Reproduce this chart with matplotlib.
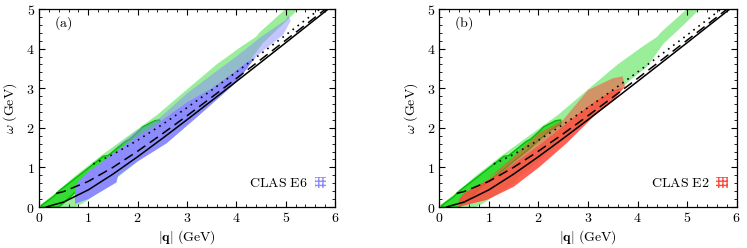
import matplotlib
matplotlib.use("Agg")
import matplotlib.pyplot as plt
from matplotlib.patches import Polygon, Patch
from matplotlib.ticker import MultipleLocator, FixedLocator, FixedFormatter

plt.rcParams['mathtext.fontset'] = 'cm'
plt.rcParams['font.family'] = ['DejaVu Serif']

# ---------------- data ----------------
# kinematic lines (|q|, omega) in GeV
solid_q = [0.15, 0.2, 0.5, 1.0, 1.5, 2.0, 2.5, 3.0, 3.5, 4.0, 4.5, 5.0, 5.5, 5.85]
solid_w = [0.0, 0.021, 0.125, 0.433, 0.831, 1.270, 1.731, 2.204, 2.685, 3.170, 3.658, 4.148, 4.641, 4.986]
dashed_q = [0.35, 0.5, 1.0, 1.5, 2.0, 2.5, 3.0, 3.5, 4.0, 4.5, 5.0, 5.5, 5.8]
dashed_w = [0.342, 0.391, 0.648, 1.002, 1.410, 1.848, 2.304, 2.772, 3.246, 3.727, 4.211, 4.697, 4.990]
dotted_q = [1.1, 1.5, 2.0, 2.5, 3.0, 3.5, 4.0, 4.5, 5.0, 5.5, 5.7]
dotted_w = [1.086, 1.328, 1.686, 2.084, 2.509, 2.952, 3.407, 3.871, 4.342, 4.818, 5.009]

# light green region (boundary, |q| and omega)
green_q = [0.0, 0.3, 0.7, 1.24, 2.4, 3.03, 3.6, 4.1, 4.4, 4.48, 5.0, 5.26, 4.95, 4.53, 4.19, 3.86,
           3.5, 3.0, 2.5, 2.0, 1.6, 1.55, 1.2, 0.9, 0.75, 0.0]
green_w = [0.03, 0.32, 0.75, 1.28, 2.33, 3.0, 3.6, 4.05, 4.3, 4.42, 5.0, 5.0, 4.62, 4.13, 3.54, 3.21,
           2.8, 2.25, 1.7, 1.15, 0.75, 0.62, 0.35, 0.1, 0.0, 0.0]
# darker green region
dgreen_q = [0.05, 0.3, 0.4, 1.1, 1.3, 1.4, 1.75, 1.85, 2.05, 2.1, 2.35, 2.45, 2.45,
            2.2, 1.8, 1.4, 1.1, 0.8, 0.6, 0.5, 0.4, 0.05]
dgreen_w = [0.04, 0.27, 0.4, 1.08, 1.28, 1.3, 1.65, 1.72, 1.95, 2.02, 2.18, 2.2, 2.1,
            1.9, 1.45, 1.05, 0.75, 0.45, 0.22, 0.1, 0.0, 0.0]

# CLAS E6 (panel a): dense part and striped part
e6_dense_q = [0.73, 1.0, 1.3, 1.57, 1.6, 2.0, 2.59, 3.26, 3.94, 4.1, 4.4,
              4.2, 4.0, 3.5, 3.0, 2.5, 2.2, 2.0, 1.5, 1.24, 1.0, 0.8, 0.73]
e6_dense_w = [0.08, 0.2, 0.42, 0.62, 0.78, 1.15, 1.61, 2.33, 3.08, 3.3, 3.8,
              3.65, 3.45, 3.0, 2.65, 2.2, 1.95, 1.8, 1.35, 1.1, 0.9, 0.65, 0.5]
e6_sparse_q = [1.5, 2.0, 2.4, 3.0, 3.5, 4.0, 4.5, 5.0, 5.05, 5.1, 4.95, 4.4,
               4.2, 4.0, 3.5, 3.0, 2.5, 2.0]
e6_sparse_w = [1.45, 1.95, 2.2, 2.87, 3.34, 3.8, 4.3, 4.72, 4.85, 4.7, 4.35, 3.8,
               3.65, 3.45, 3.0, 2.65, 2.2, 1.8]

# CLAS E2 (panel b): dense part and striped part
e2_dense_q = [0.38, 0.96, 1.5, 2.03, 2.57, 3.11, 3.52, 3.75,
              3.5, 3.0, 2.5, 2.0, 1.5, 1.0, 0.5, 0.4]
e2_dense_w = [0.0, 0.18, 0.51, 1.02, 1.61, 2.28, 2.7, 3.04,
              2.95, 2.55, 2.05, 1.55, 1.1, 0.7, 0.35, 0.2]
e2_sparse_q = [1.0, 1.5, 2.0, 2.5, 3.0, 3.5, 3.7, 3.75, 3.5, 3.0, 2.5, 2.0, 1.5]
e2_sparse_w = [0.75, 1.27, 1.86, 2.2, 2.95, 3.25, 3.3, 3.04, 2.95, 2.55, 2.05, 1.55, 1.1]

xticks = [0, 1, 2, 3, 4, 5, 6]
yticks = [0, 1, 2, 3, 4, 5]
panel_labels = ['(a)', '(b)']
data_labels = ['CLAS E6', 'CLAS E2']

# ---------------- styling ----------------
light_green = '#9aee9a'
dark_green = '#33dd33'
dark_green_edge = '#00bb00'
blue_dense = '#8c8cff'
red_dense = '#ff4a3c'

fig = plt.figure(figsize=(7.47, 2.48), dpi=100)
ax_a = fig.add_axes([0.0522, 0.1653, 0.3963, 0.7984])
ax_b = fig.add_axes([0.5881, 0.1653, 0.3980, 0.7984])

panels = [
    (ax_a, (e6_dense_q, e6_dense_w), (e6_sparse_q, e6_sparse_w), blue_dense, 1.0, 0.5),
    (ax_b, (e2_dense_q, e2_dense_w), (e2_sparse_q, e2_sparse_w), red_dense, 0.88, 0.55),
]

for i, (ax, dense, sparse, cd, alpha, salpha) in enumerate(panels):
    ax.add_patch(Polygon(list(zip(green_q, green_w)), closed=True, facecolor=light_green,
                         edgecolor='none', zorder=1))
    ax.add_patch(Polygon(list(zip(dgreen_q, dgreen_w)), closed=True, facecolor=dark_green,
                         edgecolor=dark_green_edge, linewidth=1.0, zorder=2))
    ax.add_patch(Polygon(list(zip(*sparse)), closed=True, facecolor=cd,
                         edgecolor='none', alpha=salpha, zorder=3))
    ax.add_patch(Polygon(list(zip(*dense)), closed=True, facecolor=cd,
                         edgecolor='none', alpha=alpha, zorder=4))

    ax.plot(solid_q, solid_w, color='black', lw=1.1, zorder=6)
    ax.plot(dashed_q, dashed_w, color='black', lw=1.1, dashes=(6.5, 3.5), zorder=6)
    ax.plot(dotted_q, dotted_w, color='black', lw=1.2, dashes=(1, 2.8), zorder=6)

    ax.set_xlim(0, 6)
    ax.set_ylim(0, 5)
    ax.xaxis.set_major_locator(FixedLocator(xticks))
    ax.xaxis.set_major_formatter(FixedFormatter(['$%d$' % t for t in xticks]))
    ax.yaxis.set_major_locator(FixedLocator(yticks))
    ax.yaxis.set_major_formatter(FixedFormatter(['$%d$' % t for t in yticks]))
    ax.xaxis.set_minor_locator(MultipleLocator(0.2))
    ax.yaxis.set_minor_locator(MultipleLocator(0.2))
    ax.tick_params(which='both', direction='in', top=True, right=True, labelsize=10, pad=3)
    ax.tick_params(which='major', length=4, width=0.8)
    ax.tick_params(which='minor', length=2, width=0.6)
    for s in ax.spines.values():
        s.set_linewidth(0.9)

    ax.set_xlabel(r'$|\mathbf{q}|\ \mathrm{(GeV)}$', fontsize=10, labelpad=2)
    ax.set_ylabel(r'$\omega\ \mathrm{(GeV)}$', fontsize=10, labelpad=5)
    ax.text(0.05, 0.93, r'$\mathrm{%s}$' % panel_labels[i], transform=ax.transAxes,
            fontsize=10, ha='left', va='center')

    handle = Patch(facecolor='white', edgecolor=cd, hatch='++++', linewidth=0,
                   label=r'$\mathrm{%s}$' % data_labels[i].replace(' ', r'\ '))
    leg = ax.legend(handles=[handle], loc='lower right', frameon=False, markerfirst=False,
                    fontsize=10, handlelength=0.8, handleheight=0.8, handletextpad=0.5,
                    borderaxespad=0.25, bbox_to_anchor=(1.0, 0.04))
    leg.set_zorder(10)

fig.savefig('out.png', dpi=100)
